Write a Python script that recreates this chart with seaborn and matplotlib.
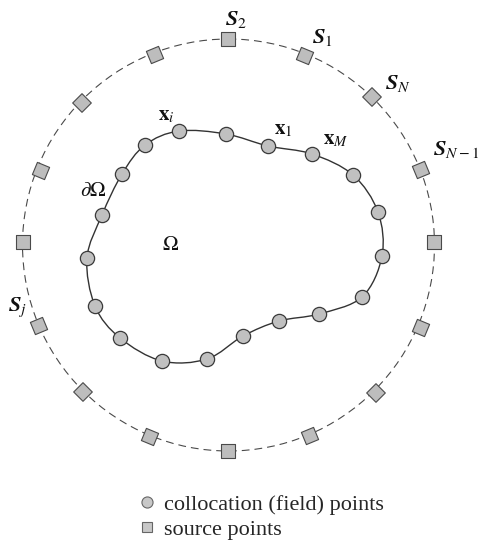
import numpy as np
import pandas as pd
import seaborn as sns
import matplotlib.pyplot as plt
from matplotlib.markers import MarkerStyle
from matplotlib.transforms import Affine2D
from matplotlib.path import Path
from matplotlib.patches import Circle, PathPatch
from matplotlib.lines import Line2D

# collocation (field) points on the boundary, pixel coords, clockwise from x_i
coll_x = [179, 226, 268, 312, 353, 378, 382, 362, 319, 279, 243, 207, 162, 120, 95, 87, 102, 122, 145]
coll_y = [131, 134, 146, 154, 175, 212, 256, 297, 314, 321, 336, 359, 361, 338, 306, 258, 215, 174, 145]

# source points on the dashed circle, clockwise from S_2
src_x = [228, 305, 372, 421, 434, 421, 376, 310, 228, 150, 83, 39, 23, 41, 82, 155]
src_y = [39, 56, 97, 170, 242, 328, 393, 436, 451, 437, 392, 326, 242, 171, 103, 55]

circle_center = (228.5, 245)
circle_radius = 206

# labels: text, x, y, ha
src_labels = [
    (r'$\mathbfit{S}_2$', 236, 20, 'center'),
    (r'$\mathbfit{S}_1$', 322, 37, 'center'),
    (r'$\mathbfit{S}_N$', 398, 83, 'center'),
    (r'$\mathbfit{S}_{N-1}$', 433, 150, 'left'),
    (r'$\mathbfit{S}_j$', 8, 307, 'left'),
]
pt_labels = [
    (r'$\mathbf{x}_i$', 166, 116, 'center'),
    (r'$\mathbf{x}_1$', 283, 130, 'center'),
    (r'$\mathbf{x}_M$', 336, 140, 'center'),
    (r'$\partial\Omega$', 93, 191, 'center'),
    (r'$\Omega$', 171, 245, 'center'),
]
legend_labels = ['collocation (field) points', 'source points']


def closed_smooth_path(xs, ys):
    # Catmull-Rom through the points, written as cubic Bezier segments
    p = np.column_stack([xs, ys]).astype(float)
    n = len(p)
    verts = [p[0]]
    codes = [Path.MOVETO]
    for i in range(n):
        p0, p1, p2, p3 = p[i - 1], p[i], p[(i + 1) % n], p[(i + 2) % n]
        c1 = p1 + (p2 - p0) / 6.0
        c2 = p2 - (p3 - p1) / 6.0
        verts += [c1, c2, p2]
        codes += [Path.CURVE4] * 3
    return Path(verts, codes)


sns.set_style('white')
plt.rcParams['font.family'] = ['Liberation Serif', 'DejaVu Serif']
plt.rcParams['mathtext.fontset'] = 'stix'

fig = plt.figure(figsize=(4.78, 5.46), dpi=100)
ax = fig.add_axes([0, 0, 1, 1])
ax.set_xlim(0, 478)
ax.set_ylim(546, 0)
ax.set_axis_off()

# dashed circle of sources
ax.add_patch(Circle(circle_center, circle_radius, fill=False, ec='#4a4a4a',
                    lw=0.8, ls=(0, (7, 4.5)), zorder=1))

# boundary curve
ax.add_patch(PathPatch(closed_smooth_path(coll_x, coll_y), fill=False,
                       ec='#333333', lw=1.0, zorder=1))

coll_df = pd.DataFrame({'x': coll_x, 'y': coll_y})
sns.scatterplot(data=coll_df, x='x', y='y', marker='o', s=105, color='#c0c0c0',
                edgecolor='#3a3a3a', linewidth=0.9, legend=False, zorder=3, ax=ax)

# squares turned so they sit tangent to the circle
src_df = pd.DataFrame({'x': src_x, 'y': src_y})
ang = np.degrees(np.arctan2(circle_center[1] - src_df['y'], src_df['x'] - circle_center[0]))
src_df['rot'] = (np.round(ang / 22.5) * 22.5) % 90
rot_markers = {r: MarkerStyle('s', transform=Affine2D().rotate_deg(r))
               for r in sorted(src_df['rot'].unique())}
sns.scatterplot(data=src_df, x='x', y='y', style='rot', markers=rot_markers, s=90,
                color='#bdbdbd', edgecolor='#4a4a4a', linewidth=0.8, legend=False,
                zorder=3, ax=ax)

for txt, x, y, ha in src_labels:
    ax.text(x, y, txt, fontsize=16, ha=ha, va='center', color='#111111', clip_on=False)
for txt, x, y, ha in pt_labels:
    ax.text(x, y, txt, fontsize=15, ha=ha, va='center', color='#111111')

handles = [
    Line2D([], [], marker='o', ls='none', ms=8, mfc='#c8c8c8', mec='#666666', mew=0.8),
    Line2D([], [], marker='s', ls='none', ms=7.5, mfc='#c8c8c8', mec='#666666', mew=0.8),
]
ax.legend(handles, legend_labels, loc='upper left',
          bbox_to_anchor=(136 / 478, 1 - 494 / 546), frameon=False,
          prop={'family': 'Liberation Serif', 'size': 16}, handlelength=1.0,
          handletextpad=0.25, labelspacing=0.2, borderpad=0, borderaxespad=0)

fig.savefig('out.png', dpi=100)
